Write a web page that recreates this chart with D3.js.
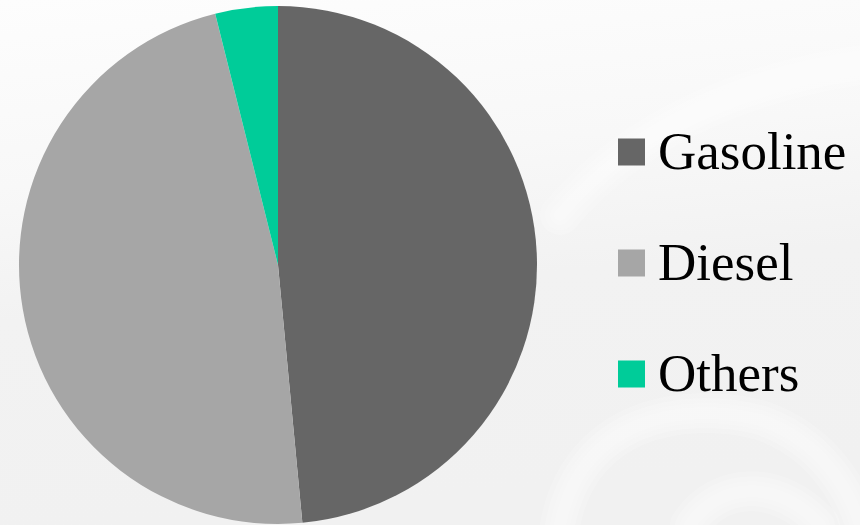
<!DOCTYPE html>
<html>
<head>
<meta charset="utf-8">
<script src="https://cdn.jsdelivr.net/npm/d3@7"></script>
<style>
  html, body { margin: 0; padding: 0; background: #f2f2f2; font-family: 'Liberation Serif', 'Times New Roman', Tinos, serif; }
  svg { display: block; }
  svg text { font-family: 'Liberation Serif', 'Times New Roman', Tinos, serif !important; }
</style>
</head>
<body>
<div id="chart"></div>
<script>
const fuels  = ['Gasoline', 'Diesel', 'Others'];
const shares = [48.5, 47.6, 3.9];
const colors = ['#666666', '#a6a6a6', '#00cc99'];

const width = 860, height = 525;
const cx = 278, cy = 265, radius = 259;

const svg = d3.select('#chart').append('svg')
  .attr('width', width)
  .attr('height', height)
  .attr('font-family', 'Liberation Serif, Times New Roman, serif');

// faint background: light top fading into grey
const defs = svg.append('defs');
const bg = defs.append('linearGradient').attr('id', 'bg')
  .attr('x1', 0).attr('y1', 0).attr('x2', 0.15).attr('y2', 1);
bg.append('stop').attr('offset', '0%').attr('stop-color', '#fdfdfd');
bg.append('stop').attr('offset', '35%').attr('stop-color', '#f8f8f8');
bg.append('stop').attr('offset', '60%').attr('stop-color', '#f2f2f2');
bg.append('stop').attr('offset', '100%').attr('stop-color', '#f1f1f1');

svg.append('rect').attr('width', width).attr('height', height).attr('fill', 'url(#bg)');

// soft white arcs, built from stacked translucent strokes
const arcs = [
  'M560,215 C640,120 760,80 860,65',
  'M560,525 C580,420 680,400 760,420 C820,440 850,490 860,525',
  'M690,525 C720,480 780,480 820,525'
];
const deco = svg.append('g').attr('fill', 'none').attr('stroke', '#ffffff');
[40, 30, 20, 12].forEach(w => {
  deco.selectAll(null).data(arcs).join('path')
    .attr('d', d => d)
    .attr('stroke-width', w)
    .attr('stroke-linecap', 'round')
    .attr('opacity', 0.18);
});

const pie = d3.pie().sort(null).value(d => d);
const arc = d3.arc().innerRadius(0).outerRadius(radius);

svg.append('g')
  .attr('transform', `translate(${cx},${cy})`)
  .selectAll('path')
  .data(pie(shares))
  .join('path')
    .attr('d', arc)
    .attr('fill', (d, i) => colors[i]);

// legend
const legendY = d3.scalePoint().domain(fuels).range([152, 374]);

svg.append('g').selectAll('rect')
  .data(fuels)
  .join('rect')
    .attr('x', 618)
    .attr('y', d => legendY(d) - 13.5)
    .attr('width', 27).attr('height', 27)
    .attr('fill', (d, i) => colors[i]);

svg.append('g').selectAll('text')
  .data(fuels)
  .join('text')
    .attr('x', 658)
    .attr('y', d => legendY(d) + 17)
    .attr('font-family', 'Liberation Serif, Times New Roman, serif')
    .attr('font-size', 53)
    .attr('fill', '#000')
    .text(d => d);
</script>
</body>
</html>
